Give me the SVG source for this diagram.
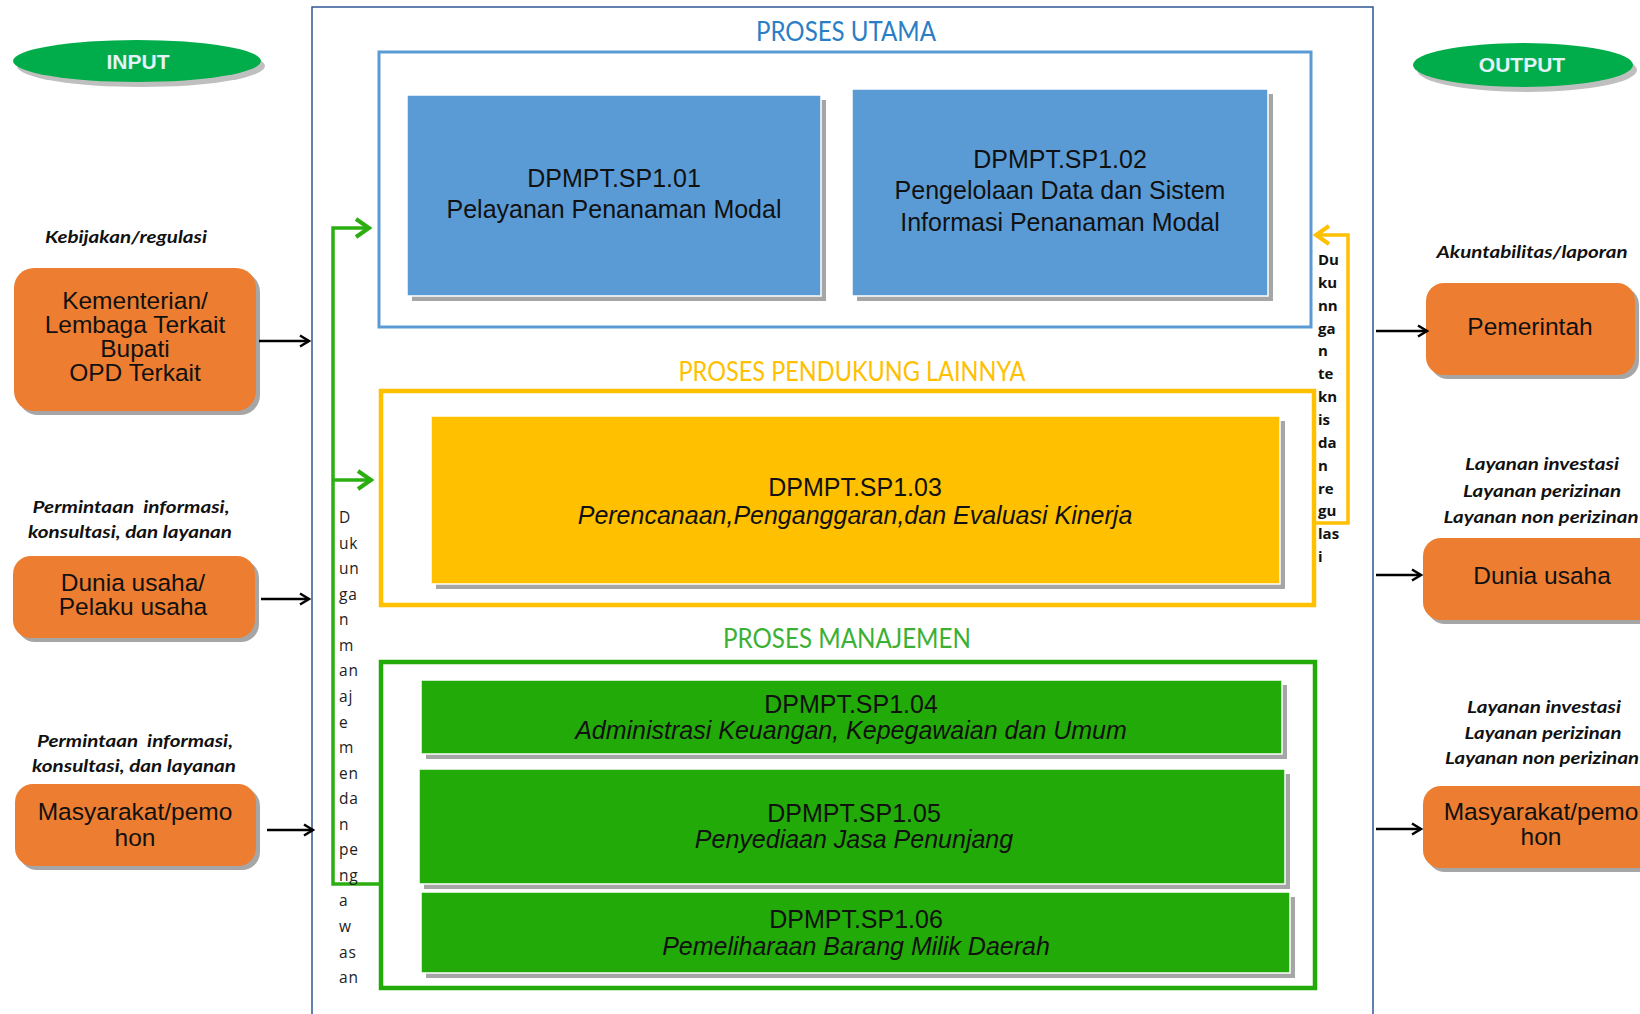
<svg xmlns="http://www.w3.org/2000/svg" width="1640" height="1014" viewBox="0 0 1640 1014">
<defs>
<style>
.bg{fill:#ffffff}
.frame{fill:none;stroke:#2F5597;stroke-width:1.5}
.oval{fill:#00AD4A}
.oshadow{fill:#BFBFBF}
.ovaltxt{font-family:"Liberation Sans",Arial,sans-serif;font-weight:bold;font-size:21px;fill:#E3F1F8;text-anchor:middle}
.orange{fill:#ED7D31}
.shadow{fill:#A6A6A6}
.t24{font-family:"Liberation Sans",Arial,sans-serif;font-size:24.5px;fill:#111111;text-anchor:middle}
.t25{font-family:"Liberation Sans",Arial,sans-serif;font-size:25px;fill:#111111;text-anchor:middle}
.it{font-style:italic}
.lbl{font-family:Lato,"Open Sans",sans-serif;font-weight:bold;font-style:italic;font-size:17px;fill:#111111;text-anchor:middle}
.sec{font-family:Lato,"Open Sans",sans-serif;font-size:26px;text-anchor:middle}
.blue{fill:#5B9BD5;stroke:#ffffff;stroke-width:1.5}
.yel{fill:#FFC000;stroke:#ffffff;stroke-width:1.5}
.grn{fill:#22AA08;stroke:#ffffff;stroke-width:1.5}
.vtl{font-family:"Open Sans",sans-serif;font-size:15.5px;letter-spacing:0.8px;fill:#222222}
.vtr{font-family:"Open Sans",sans-serif;font-weight:bold;font-size:15px;fill:#111111}
.arr{fill:none;stroke:#000000;stroke-width:2.5}
.garr{fill:none;stroke:#2AAE10;stroke-width:3.5}
.yarr{fill:none;stroke:#FFC000;stroke-width:3.5}
</style>
<marker id="ahb" markerUnits="userSpaceOnUse" markerWidth="14" markerHeight="14" refX="11" refY="7" orient="auto">
<path d="M2,1.5 L11,7 L2,12.5" fill="none" stroke="#000000" stroke-width="2.5"/>
</marker>
<marker id="ahg" markerUnits="userSpaceOnUse" markerWidth="20" markerHeight="22" refX="16" refY="11" orient="auto">
<path d="M3,2 L16,11 L3,20" fill="none" stroke="#2AAE10" stroke-width="4"/>
</marker>
<marker id="ahy" markerUnits="userSpaceOnUse" markerWidth="20" markerHeight="22" refX="16" refY="11" orient="auto">
<path d="M3,2 L16,11 L3,20" fill="none" stroke="#FFC000" stroke-width="4"/>
</marker>
</defs>
<rect class="bg" x="0" y="0" width="1640" height="1014"/>

<g id="main-frame">
<rect class="frame" x="312" y="7" width="1061" height="1030"/>
</g>

<g id="input-label">
<ellipse class="oshadow" cx="141" cy="66" rx="124" ry="21"/>
<ellipse class="oval" cx="137" cy="61" rx="124" ry="21"/>
<text class="ovaltxt" x="138" y="69">INPUT</text>
</g>

<g id="output-label">
<ellipse class="oshadow" cx="1527" cy="70" rx="110" ry="22"/>
<ellipse class="oval" cx="1523" cy="65" rx="110" ry="22"/>
<text class="ovaltxt" x="1522" y="72">OUTPUT</text>
</g>

<g id="in-kementerian">
<text class="lbl" x="126" y="243" textLength="162" lengthAdjust="spacingAndGlyphs">Kebijakan/regulasi</text>
<rect class="shadow" x="18" y="272" width="242" height="143" rx="20"/>
<rect class="orange" x="14" y="268" width="242" height="143" rx="20"/>
<text class="t24" x="135" y="309">Kementerian/</text>
<text class="t24" x="135" y="333">Lembaga Terkait</text>
<text class="t24" x="135" y="357">Bupati</text>
<text class="t24" x="135" y="381">OPD Terkait</text>
</g>

<g id="in-dunia-usaha">
<text class="lbl" x="131" y="513" textLength="197" lengthAdjust="spacingAndGlyphs">Permintaan&#160; informasi,</text>
<text class="lbl" x="130" y="538" textLength="204" lengthAdjust="spacingAndGlyphs">konsultasi, dan layanan</text>
<rect class="shadow" x="17" y="560" width="242" height="82" rx="18"/>
<rect class="orange" x="13" y="556" width="242" height="82" rx="18"/>
<text class="t24" x="133" y="591">Dunia usaha/</text>
<text class="t24" x="133" y="615">Pelaku usaha</text>
</g>

<g id="in-masyarakat">
<text class="lbl" x="135" y="747" textLength="196" lengthAdjust="spacingAndGlyphs">Permintaan&#160; informasi,</text>
<text class="lbl" x="134" y="772" textLength="204" lengthAdjust="spacingAndGlyphs">konsultasi, dan layanan</text>
<rect class="shadow" x="19" y="788" width="241" height="82" rx="18"/>
<rect class="orange" x="15" y="784" width="241" height="82" rx="18"/>
<text class="t24" x="135" y="820">Masyarakat/pemo</text>
<text class="t24" x="135" y="846">hon</text>
</g>

<g id="out-pemerintah">
<text class="lbl" x="1532" y="258" textLength="191" lengthAdjust="spacingAndGlyphs">Akuntabilitas/laporan</text>
<rect class="shadow" x="1430" y="287" width="209" height="92" rx="18"/>
<rect class="orange" x="1426" y="283" width="209" height="92" rx="18"/>
<text class="t24" x="1530" y="335">Pemerintah</text>
</g>

<g id="out-dunia-usaha">
<text class="lbl" x="1542" y="470" textLength="154" lengthAdjust="spacingAndGlyphs">Layanan investasi</text>
<text class="lbl" x="1542" y="497" textLength="158" lengthAdjust="spacingAndGlyphs">Layanan perizinan</text>
<text class="lbl" x="1541" y="523" textLength="195" lengthAdjust="spacingAndGlyphs">Layanan non perizinan</text>
<rect class="shadow" x="1427" y="542" width="240" height="82" rx="18"/>
<rect class="orange" x="1423" y="538" width="240" height="82" rx="18"/>
<text class="t24" x="1542" y="584">Dunia usaha</text>
</g>

<g id="out-masyarakat">
<text class="lbl" x="1544" y="713" textLength="154" lengthAdjust="spacingAndGlyphs">Layanan investasi</text>
<text class="lbl" x="1543" y="739" textLength="157" lengthAdjust="spacingAndGlyphs">Layanan perizinan</text>
<text class="lbl" x="1542" y="764" textLength="194" lengthAdjust="spacingAndGlyphs">Layanan non perizinan</text>
<rect class="shadow" x="1427" y="790" width="240" height="82" rx="18"/>
<rect class="orange" x="1423" y="786" width="240" height="82" rx="18"/>
<text class="t24" x="1541" y="820">Masyarakat/pemo</text>
<text class="t24" x="1541" y="845">hon</text>
</g>

<g id="proses-utama">
<text class="sec" x="846" y="41" fill="#2A7EC5" textLength="180" lengthAdjust="spacingAndGlyphs">PROSES UTAMA</text>
<rect x="379" y="52" width="932" height="275" fill="none" stroke="#5B9BD5" stroke-width="3"/>
</g>

<g id="sp1-01">
<rect class="shadow" x="412" y="100" width="414" height="201"/>
<rect class="blue" x="407" y="95" width="414" height="201"/>
<text class="t25" x="614" y="187">DPMPT.SP1.01</text>
<text class="t25" x="614" y="218">Pelayanan Penanaman Modal</text>
</g>

<g id="sp1-02">
<rect class="shadow" x="857" y="94" width="416" height="207"/>
<rect class="blue" x="852" y="89" width="416" height="207"/>
<text class="t25" x="1060" y="168">DPMPT.SP1.02</text>
<text class="t25" x="1060" y="199">Pengelolaan Data dan Sistem</text>
<text class="t25" x="1060" y="231">Informasi Penanaman Modal</text>
</g>

<g id="proses-pendukung">
<text class="sec" x="852" y="381" fill="#FFC000" textLength="347" lengthAdjust="spacingAndGlyphs">PROSES PENDUKUNG LAINNYA</text>
<rect x="381" y="391" width="933" height="214" fill="none" stroke="#FFC000" stroke-width="4.5"/>
</g>

<g id="sp1-03">
<rect class="shadow" x="436" y="421" width="849" height="168"/>
<rect class="yel" x="431" y="416" width="849" height="168"/>
<text class="t25" x="855" y="496">DPMPT.SP1.03</text>
<text class="t25 it" x="855" y="524">Perencanaan,Penganggaran,dan Evaluasi Kinerja</text>
</g>

<g id="proses-manajemen">
<text class="sec" x="847" y="648" fill="#3CB034" textLength="248" lengthAdjust="spacingAndGlyphs">PROSES MANAJEMEN</text>
<rect x="381" y="662" width="934" height="326" fill="none" stroke="#22AA08" stroke-width="4.5"/>
</g>

<g id="sp1-04">
<rect class="shadow" x="426" y="685" width="861" height="74"/>
<rect class="grn" x="421" y="680" width="861" height="74"/>
<text class="t25" x="851" y="713">DPMPT.SP1.04</text>
<text class="t25 it" x="851" y="739">Administrasi Keuangan, Kepegawaian dan Umum</text>
</g>

<g id="sp1-05">
<rect class="shadow" x="424" y="774" width="866" height="115"/>
<rect class="grn" x="419" y="769" width="866" height="115"/>
<text class="t25" x="854" y="822">DPMPT.SP1.05</text>
<text class="t25 it" x="854" y="848">Penyediaan Jasa Penunjang</text>
</g>

<g id="sp1-06">
<rect class="shadow" x="426" y="897" width="869" height="81"/>
<rect class="grn" x="421" y="892" width="869" height="81"/>
<text class="t25" x="856" y="928">DPMPT.SP1.06</text>
<text class="t25 it" x="856" y="955">Pemeliharaan Barang Milik Daerah</text>
</g>

<g id="connectors">
<line class="arr" x1="259" y1="341" x2="309" y2="341" marker-end="url(#ahb)"/>
<line class="arr" x1="261" y1="599" x2="309" y2="599" marker-end="url(#ahb)"/>
<line class="arr" x1="267" y1="830" x2="313" y2="830" marker-end="url(#ahb)"/>
<line class="arr" x1="1376" y1="331" x2="1427" y2="331" marker-end="url(#ahb)"/>
<line class="arr" x1="1376" y1="575" x2="1421" y2="575" marker-end="url(#ahb)"/>
<line class="arr" x1="1376" y1="829" x2="1421" y2="829" marker-end="url(#ahb)"/>
<polyline class="garr" points="381,884 333,884 333,228 369,228" marker-end="url(#ahg)"/>
<line class="garr" x1="333" y1="480" x2="371" y2="480" marker-end="url(#ahg)"/>
<polyline class="yarr" points="1315,523 1348,523 1348,235 1316,235" marker-end="url(#ahy)"/>
</g>

<g id="label-dukungan-manajemen">
<text class="vtl" x="339" y="523">D</text>
<text class="vtl" x="339" y="548.6">uk</text>
<text class="vtl" x="339" y="574.1">un</text>
<text class="vtl" x="339" y="599.7">ga</text>
<text class="vtl" x="339" y="625.2">n</text>
<text class="vtl" x="339" y="650.8">m</text>
<text class="vtl" x="339" y="676.4">an</text>
<text class="vtl" x="339" y="701.9">aj</text>
<text class="vtl" x="339" y="727.5">e</text>
<text class="vtl" x="339" y="753">m</text>
<text class="vtl" x="339" y="778.6">en</text>
<text class="vtl" x="339" y="804.2">da</text>
<text class="vtl" x="339" y="829.7">n</text>
<text class="vtl" x="339" y="855.3">pe</text>
<text class="vtl" x="339" y="880.8">ng</text>
<text class="vtl" x="339" y="906.4">a</text>
<text class="vtl" x="339" y="932">w</text>
<text class="vtl" x="339" y="957.5">as</text>
<text class="vtl" x="339" y="983">an</text>
</g>

<g id="label-dukungan-teknis">
<text class="vtr" x="1318" y="265">Du</text>
<text class="vtr" x="1318" y="287.9">ku</text>
<text class="vtr" x="1318" y="310.7">nn</text>
<text class="vtr" x="1318" y="333.6">ga</text>
<text class="vtr" x="1318" y="356.4">n</text>
<text class="vtr" x="1318" y="379.3">te</text>
<text class="vtr" x="1318" y="402.1">kn</text>
<text class="vtr" x="1318" y="425">is</text>
<text class="vtr" x="1318" y="447.8">da</text>
<text class="vtr" x="1318" y="470.7">n</text>
<text class="vtr" x="1318" y="493.5">re</text>
<text class="vtr" x="1318" y="516.4">gu</text>
<text class="vtr" x="1318" y="539.2">las</text>
<text class="vtr" x="1318" y="562">i</text>
</g>
</svg>
